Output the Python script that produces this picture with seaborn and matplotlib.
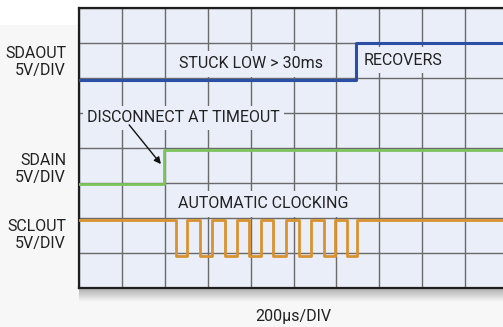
import numpy as np
import matplotlib
matplotlib.use("Agg")
import matplotlib.pyplot as plt
import seaborn as sns
import pandas as pd
from matplotlib.patches import Rectangle

# ---- data (time in divisions, level in divisions) ----
sdaout_t = [0.0, 6.46, 10.2]
sdaout_v = [5.94, 6.99, 6.99]

sdain_t = [0.0, 1.97, 10.2]
sdain_v = [2.96, 3.95, 3.95]

sclout_t = [0.0, 2.25, 2.52, 2.82, 3.10, 3.40, 3.69, 3.97, 4.24,
            4.53, 4.83, 5.13, 5.41, 5.71, 5.97, 6.25, 6.48, 10.2]
sclout_v = [1.93, 0.92, 1.93, 0.92, 1.93, 0.92, 1.93, 0.92, 1.93,
            0.92, 1.93, 0.92, 1.93, 0.92, 1.93, 0.92, 1.93, 1.93]

channel_labels = ["SDAOUT\n5V/DIV", "SDAIN\n5V/DIV", "SCLOUT\n5V/DIV"]
channel_label_y = [6.45, 3.41, 1.51]
timebase = "200µs/DIV"

sns.set_theme(style="white")
plt.rcParams['font.family'] = ['Roboto', 'DejaVu Sans']

W, H = 503, 327
fig = plt.figure(figsize=(W / 100, H / 100), dpi=100)
fig.patch.set_facecolor('#f7f7f7')
bg = fig.add_axes([0, 0, 1, 1], zorder=-5)
bg.add_patch(Rectangle((0, 1 - 25 / H), 1, 25 / H, facecolor='white', edgecolor='none'))
bg.set_xlim(0, 1)
bg.set_ylim(0, 1)
bg.axis('off')

left, top, bottom = 79, 8, 288
ax = fig.add_axes([left / W, (H - bottom) / H, 429 / W, (bottom - top) / H], zorder=2)

# drop shadow under plot
shadow = fig.add_axes([left / W, (H - bottom - 14) / H, 429 / W, 14 / H], zorder=1)
grad = np.linspace(0.55, 0.0, 30).reshape(-1, 1)
shadow.imshow(np.dstack([np.full_like(grad, 0.45)] * 3 + [grad]), aspect='auto',
              extent=[0, 1, 0, 1])
shadow.axis('off')

ax.set_facecolor('#e9eef8')
ax.grid(True, color='#6a6a6a', linewidth=1.0)
ax.tick_params(left=False, bottom=False, labelleft=False, labelbottom=False)
for s in ax.spines.values():
    s.set_color('#1e1e1e')
    s.set_linewidth(1.6)
ax.set_axisbelow(True)

df_out = pd.DataFrame({"t": sdaout_t, "v": sdaout_v})
df_in = pd.DataFrame({"t": sdain_t, "v": sdain_v})
df_scl = pd.DataFrame({"t": sclout_t, "v": sclout_v})

sns.lineplot(data=df_out, x="t", y="v", ax=ax, color='#2c4fa6', linewidth=2.2,
             drawstyle='steps-post', zorder=4)
sns.lineplot(data=df_in, x="t", y="v", ax=ax, color='#7cc35c', linewidth=2.0,
             drawstyle='steps-post', zorder=4)
sns.lineplot(data=df_scl, x="t", y="v", ax=ax, color='#d9922f', linewidth=2.0,
             drawstyle='steps-post', zorder=4)
ax.set_xlabel("")
ax.set_ylabel("")
ax.set_xlim(0, 10)
ax.set_ylim(0, 8)
ax.set_xticks(np.arange(0, 11, 1))
ax.set_yticks(np.arange(0, 9, 1))

txtc = '#222222'
fs = 11.5
box = dict(facecolor='#e9eef8', edgecolor='none', pad=4)

for lab, yy in zip(channel_labels, channel_label_y):
    ax.text(-0.30, yy, lab, ha='right', va='center', fontsize=fs, color=txtc,
            linespacing=1.15, clip_on=False)

ax.text(5.0, -0.80, timebase, ha='center', va='center', fontsize=fs, color=txtc,
        clip_on=False)

ax.text(4.0, 6.40, "STUCK LOW > 30ms", ha='center', va='center', fontsize=fs,
        color=txtc, bbox=box, zorder=3)
ax.text(7.56, 6.51, "RECOVERS", ha='center', va='center', fontsize=fs,
        color=txtc, bbox=box, zorder=3)
ax.text(2.44, 4.86, "DISCONNECT AT TIMEOUT", ha='center', va='center', fontsize=fs,
        color=txtc, bbox=dict(facecolor='#e9eef8', edgecolor='none', pad=3), zorder=3)
ax.text(4.30, 2.41, "AUTOMATIC CLOCKING", ha='center', va='center', fontsize=fs,
        color=txtc, bbox=box, zorder=3)

ax.annotate("", xy=(1.91, 3.54), xytext=(1.17, 4.66),
            arrowprops=dict(arrowstyle='-|>', color='#111111', lw=1.0,
                            mutation_scale=10, shrinkA=0, shrinkB=0), zorder=5)

fig.savefig("out.png", dpi=100, facecolor=fig.get_facecolor())
